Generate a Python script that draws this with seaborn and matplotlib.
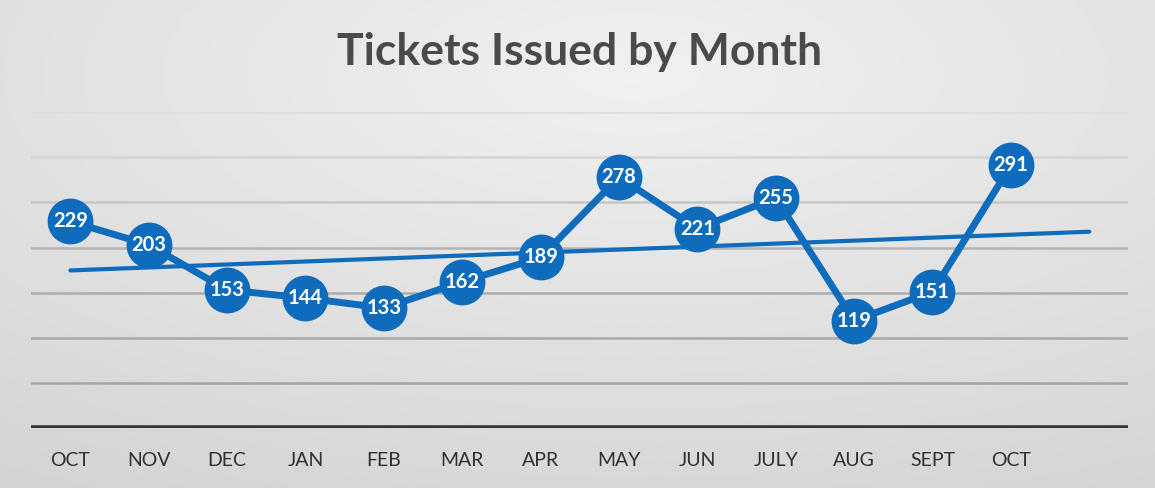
import numpy as np
import pandas as pd
import matplotlib
matplotlib.use("Agg")
import matplotlib.pyplot as plt
import seaborn as sns

months = ["OCT", "NOV", "DEC", "JAN", "FEB", "MAR", "APR",
          "MAY", "JUN", "JULY", "AUG", "SEPT", "OCT"]
tickets = [229, 203, 153, 144, 133, 162, 189, 278, 221, 255, 119, 151, 291]
y_ticks = [0, 50, 100, 150, 200, 250, 300, 350]

BLUE = "#0f6cbd"
TEXT = "#2f2f2f"

sns.set_theme(style="white")
plt.rcParams["font.family"] = ["Lato", "DejaVu Sans"]

df = pd.DataFrame({"pos": np.arange(len(months)), "tickets": tickets})

# linear trend, forecast one period forward (as Excel does)
slope, icpt = np.polyfit(df["pos"], df["tickets"], 1)
trend = pd.DataFrame({"pos": [0, len(months)]})
trend["val"] = icpt + slope * trend["pos"]

fig = plt.figure(figsize=(11.55, 4.88), dpi=100)

# scanned-paper look: soft grey gradient behind everything
bg = fig.add_axes([0, 0, 1, 1], zorder=-10)
yy, xx = np.mgrid[0:1:200j, 0:1:400j]
shade = 0.94 - 0.10 * np.sqrt(((xx - 0.55) / 0.9) ** 2 + ((yy - 0.15) / 0.9) ** 2)
bg.imshow(shade, cmap="gray", vmin=0, vmax=1, aspect="auto", extent=[0, 1, 1, 0])
bg.axis("off")

ax = fig.add_axes([0.027, 0.123, 0.950, 0.647])
ax.set_facecolor("none")

# the scan washes out the upper gridlines
grid_cols = ["#a4a4a4", "#a8a8a8", "#acacac", "#b4b4b4", "#c6c6c6", "#d4d4d4", "#dcdcdc"]
for v, c in zip(y_ticks[1:], grid_cols):
    ax.axhline(v, color=c, lw=1.8, zorder=1)
ax.axhline(0, color="#363636", lw=4, zorder=2)

sns.lineplot(data=trend, x="pos", y="val", color=BLUE, lw=3, ax=ax, zorder=3)
sns.lineplot(data=df, x="pos", y="tickets", color=BLUE, lw=5, marker="o",
             markersize=33, markeredgewidth=0, ax=ax, zorder=4)

for x, v in zip(df["pos"], df["tickets"]):
    ax.text(x, v, str(v), color="white", fontsize=14.5, fontweight="bold",
            ha="center", va="center", zorder=5)

ax.set_xlim(-0.5, len(months) + 0.5)
ax.set_ylim(y_ticks[0], y_ticks[-1])
ax.set_xticks(df["pos"])
ax.set_xticklabels(months, fontsize=14, color=TEXT)
ax.tick_params(axis="x", length=0, pad=17)
ax.set_yticks([])
ax.set_xlabel("")
ax.set_ylabel("")
for s in ax.spines.values():
    s.set_visible(False)

fig.text(0.502, 0.893, "Tickets Issued by Month", ha="center", va="center",
         fontsize=32, fontweight="bold", color="#4a4a4a")

fig.savefig("out.png", dpi=100)
